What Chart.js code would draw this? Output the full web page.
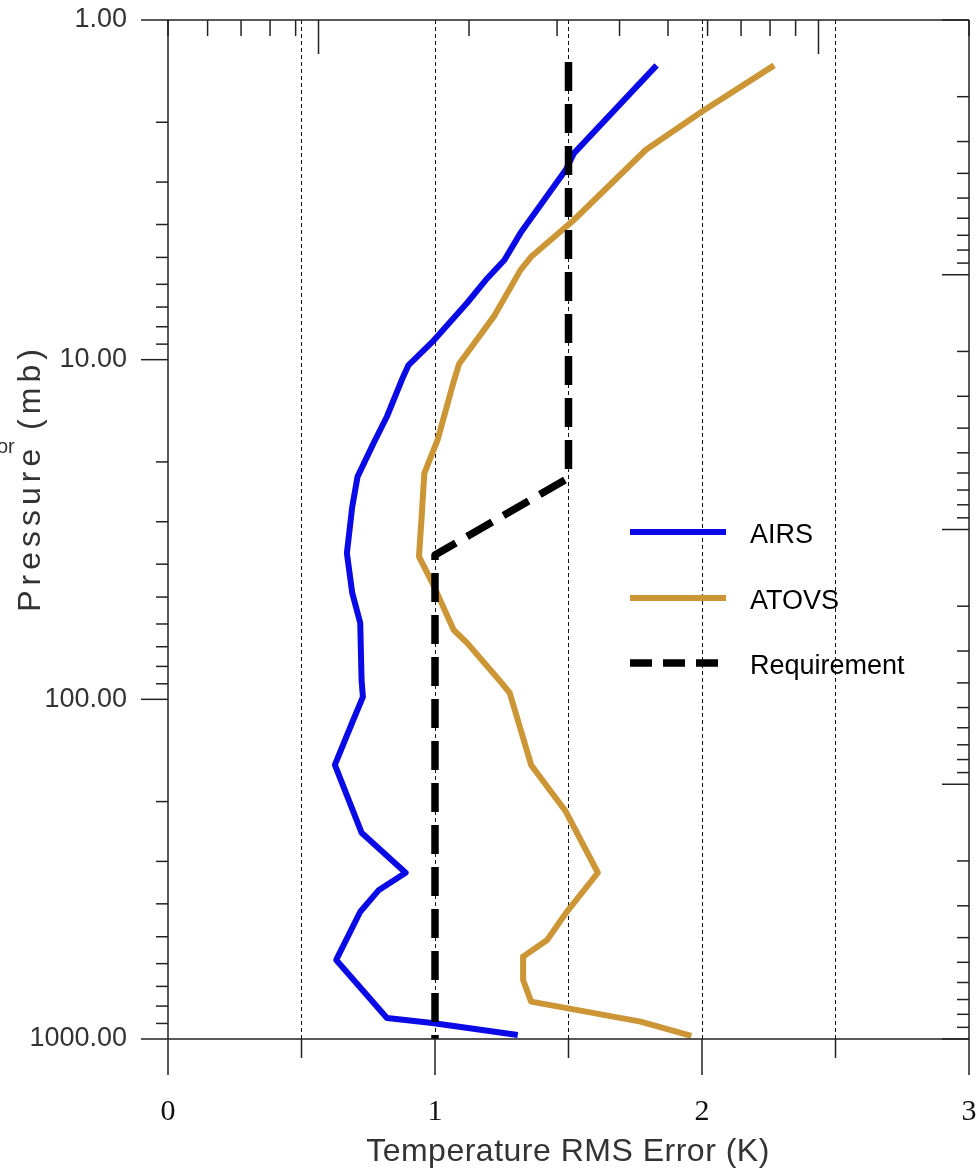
<!DOCTYPE html>
<html>
<head>
<meta charset="utf-8">
<title>Temperature RMS Error vs Pressure</title>
<script src="https://cdn.jsdelivr.net/npm/chart.js@4.4.1/dist/chart.umd.min.js"></script>
<style>
  html, body { margin: 0; padding: 0; background: #fff; }
  #wrap { width: 977px; height: 1170px; position: relative; }
</style>
</head>
<body>
<div id="wrap"><canvas id="chart"></canvas></div>
<script>
// ============================================================
// DATA
// ============================================================

// AIRS temperature RMS error (K) and pressure level (mb)
const airsError = [1.83, 1.52, 1.49, 1.32, 1.26, 1.19, 1.12, 0.99, 0.90, 0.875, 0.82, 0.77, 0.71, 0.69, 0.67,
  0.69, 0.72, 0.725, 0.73, 0.69, 0.625, 0.725, 0.89, 0.79, 0.72, 0.63, 0.82, 0.99, 1.31];
const airsPressure = [1.36, 2.47, 2.76, 4.24, 5.09, 5.83, 6.81, 8.87, 10.4, 11.5, 14.7, 17.6, 22.1, 27.1, 37.1,
  48.6, 59.6, 87.7, 98.4, 117, 156, 247, 324, 364, 422, 585, 867, 897, 973];

// ATOVS
const atovsError = [2.27, 2.00, 1.79, 1.52, 1.36, 1.32, 1.22, 1.09, 1.07, 1.01, 0.96, 0.95, 0.94, 0.99,
  1.07, 1.12, 1.24, 1.28, 1.36, 1.49, 1.61, 1.49, 1.42, 1.33, 1.33, 1.36, 1.77, 1.96];
const atovsPressure = [1.36, 1.86, 2.41, 3.88, 4.98, 5.45, 7.47, 10.3, 11.6, 17.2, 21.6, 29.0, 38.0, 45.4,
  62.5, 68.2, 87.7, 95.8, 156, 214, 324, 426, 511, 572, 670, 776, 889, 979];

// Requirement
const reqError = [1.5, 1.5, 1.0, 1.0];
const reqPressure = [1.33, 22.3, 37.6, 1000];

// Axes
const xTickValues = [0, 0.5, 1, 1.5, 2, 2.5, 3];
const pressureTickValues = [1, 10, 100, 1000];
const topAxisRange = [0.5, 20];      // unlabelled log axis along the top
const rightAxisRange = [1, 10000];   // unlabelled log axis along the right

// ============================================================
// UTILITIES
// ============================================================

function toPoints(xs, ys) {
  return xs.map((x, i) => ({ x, y: ys[i] }));
}

// 1..9 x 10^n steps inside [min, max]
function logSteps(min, max) {
  const out = [];
  for (let e = Math.floor(Math.log10(min)); e <= Math.ceil(Math.log10(max)); e++) {
    for (let m = 1; m <= 9; m++) {
      const v = m * Math.pow(10, e);
      if (v >= min * 0.999 && v <= max * 1.001) out.push({ v, major: m === 1 });
    }
  }
  return out;
}

// ============================================================
// PLUGINS
// ============================================================

const axisFrame = {
  id: 'axisFrame',
  afterDatasetsDraw(chart) {
    const { ctx, chartArea: a, scales } = chart;
    const seg = (x1, y1, x2, y2) => {
      ctx.beginPath(); ctx.moveTo(x1, y1); ctx.lineTo(x2, y2); ctx.stroke();
    };
    ctx.save();
    ctx.setLineDash([]);
    ctx.strokeStyle = '#222';
    ctx.lineWidth = 1.5;

    // box
    seg(a.left, a.top, a.right, a.top);
    seg(a.left, a.bottom, a.right, a.bottom);
    seg(a.left, a.top, a.left, a.bottom);
    seg(a.right, a.top, a.right, a.bottom);

    // left: pressure ticks, outward
    logSteps(1, 1000).forEach(t => {
      const y = scales.y.getPixelForValue(t.v);
      seg(a.left - (t.major ? 27 : 12), y, a.left, y);
    });
    // bottom: error ticks, outward
    xTickValues.forEach(v => {
      const x = scales.x.getPixelForValue(v);
      seg(x, a.bottom, x, a.bottom + (Number.isInteger(v) ? 36 : 19));
    });
    // top: inward log ticks
    logSteps(...topAxisRange).forEach(t => {
      const x = scales.x2.getPixelForValue(t.v);
      seg(x, a.top, x, a.top + (t.major ? 34 : 16));
    });
    // right: inward log ticks
    logSteps(...rightAxisRange).forEach(t => {
      const y = scales.y2.getPixelForValue(t.v);
      seg(a.right - (t.major ? 27 : 12), y, a.right, y);
    });
    ctx.restore();
  }
};

const insetLegend = {
  id: 'insetLegend',
  afterDraw(chart, args, opts) {
    const { ctx } = chart;
    ctx.save();
    chart.data.datasets.forEach((ds, i) => {
      const y = opts.rows[i];
      ctx.beginPath();
      ctx.strokeStyle = ds.borderColor;
      ctx.lineWidth = ds.borderWidth;
      ctx.lineCap = 'butt';
      ctx.setLineDash(ds.borderDash ? [22, 11] : []);
      ctx.moveTo(opts.x0, y);
      ctx.lineTo(opts.x1, y);
      ctx.stroke();
      ctx.setLineDash([]);
      ctx.fillStyle = '#000';
      ctx.font = '27px "Liberation Sans", Arial, sans-serif';
      ctx.textBaseline = 'alphabetic';
      ctx.textAlign = 'left';
      ctx.fillText(ds.label, opts.textX, y + 11);
    });
    ctx.restore();
  }
};

const axisTitles = {
  id: 'axisTitles',
  afterDraw(chart) {
    const { ctx } = chart;
    ctx.save();
    ctx.fillStyle = '#333';
    ctx.textBaseline = 'alphabetic';
    ctx.textAlign = 'center';

    ctx.font = '32px "Liberation Sans", Arial, sans-serif';
    ctx.letterSpacing = '0.5px';
    ctx.fillText('Temperature RMS Error (K)', 568, 1161);

    ctx.translate(40, 478);
    ctx.rotate(-Math.PI / 2);
    ctx.letterSpacing = '5px';
    ctx.fillText('Pressure (mb)', 0, 0);
    ctx.restore();

    // clipped word from a neighbouring panel at the left edge
    ctx.save();
    ctx.fillStyle = '#333';
    ctx.font = '20px "Liberation Sans", Arial, sans-serif';
    ctx.textAlign = 'left';
    ctx.fillText('or', -3, 453);
    ctx.restore();
  }
};

// ============================================================
// CHART
// ============================================================

const tickFontY = { family: '"Liberation Sans", Arial, sans-serif', size: 27 };
const tickFontX = { family: '"Liberation Serif", "Times New Roman", serif', size: 30 };
const clear = 'rgba(0,0,0,0)';

new Chart(document.getElementById('chart'), {
  type: 'line',
  data: {
    datasets: [
      { label: 'AIRS', data: toPoints(airsError, airsPressure), borderColor: '#0a0ae6', borderWidth: 6, order: 2 },
      { label: 'ATOVS', data: toPoints(atovsError, atovsPressure), borderColor: '#cc9636', borderWidth: 6, order: 3 },
      { label: 'Requirement', data: toPoints(reqError, reqPressure), borderColor: '#000', borderWidth: 7.5,
        borderDash: [29, 13], order: 1 }
    ]
  },
  options: {
    responsive: true,
    maintainAspectRatio: false,
    animation: false,
    layout: { padding: { top: 20, right: 8, left: 0, bottom: 0 } },
    elements: {
      point: { radius: 0, hoverRadius: 0 },
      line: { tension: 0, fill: false, borderJoinStyle: 'round', borderCapStyle: 'butt' }
    },
    plugins: {
      legend: { display: false },
      tooltip: { enabled: false },
      insetLegend: { x0: 630, x1: 726, textX: 750, rows: [532, 598, 663] }
    },
    scales: {
      x: {
        type: 'linear',
        position: 'bottom',
        min: 0,
        max: 3,
        afterFit: s => { s.height = 131; },
        afterBuildTicks: s => { s.ticks = xTickValues.map(v => ({ value: v })); },
        ticks: {
          autoSkip: false,
          maxRotation: 0,
          padding: 0,
          color: '#111',
          font: tickFontX,
          callback: v => Number.isInteger(v) ? String(v) : ''
        },
        grid: {
          drawTicks: true,
          tickLength: 55,
          tickColor: clear,
          lineWidth: 1,
          color: c => (c.tick && (c.tick.value === 0 || c.tick.value === 3)) ? clear : '#111'
        },
        border: { display: false, dash: [4, 3] }
      },
      y: {
        type: 'logarithmic',
        position: 'left',
        reverse: true,
        min: 1,
        max: 1000,
        afterFit: s => { s.width = 168; },
        afterBuildTicks: s => { s.ticks = pressureTickValues.map(v => ({ value: v })); },
        ticks: {
          padding: 0,
          color: '#333',
          font: tickFontY,
          callback: v => Number(v).toFixed(2)
        },
        grid: { display: true, drawOnChartArea: false, drawTicks: true, tickLength: 41, tickColor: clear },
        border: { display: false }
      },
      x2: { type: 'logarithmic', position: 'top', min: topAxisRange[0], max: topAxisRange[1], display: false },
      y2: { type: 'logarithmic', position: 'right', reverse: true, min: rightAxisRange[0], max: rightAxisRange[1], display: false }
    }
  },
  plugins: [axisFrame, insetLegend, axisTitles]
});
</script>
</body>
</html>
